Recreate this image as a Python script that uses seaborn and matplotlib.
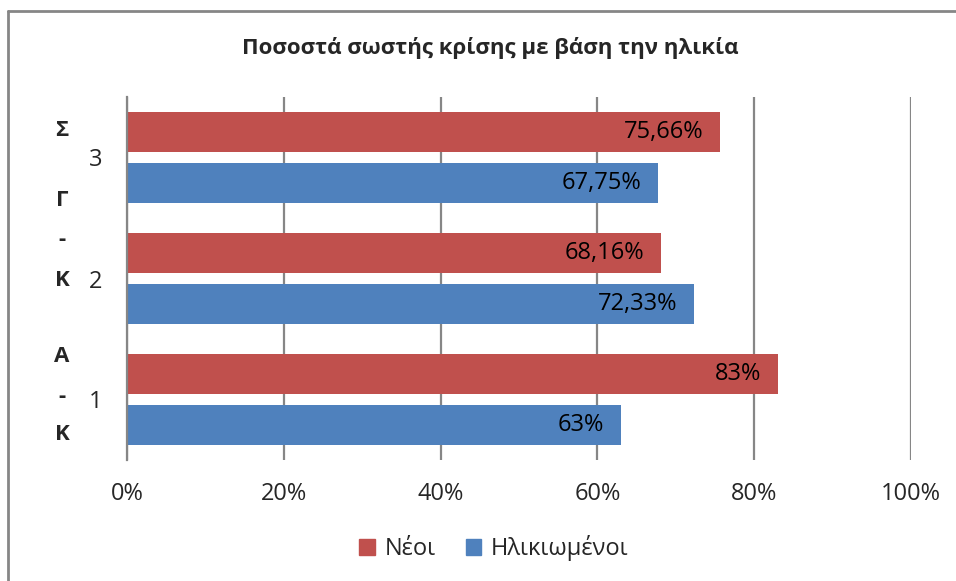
"""
Ποσοστά σωστής κρίσης με βάση την ηλικία - horizontal clustered bars
"""
import matplotlib
matplotlib.use("Agg")
import matplotlib.pyplot as plt
from matplotlib.lines import Line2D
from matplotlib.patches import Patch
import pandas as pd
import seaborn as sns

# Data
categories = ["3", "2", "1"]          # top to bottom
series = ["Νέοι", "Ηλικιωμένοι"]
neoi = [75.66, 68.16, 83.0]
ilikiomenoi = [67.75, 72.33, 63.0]
x_ticks = [0, 20, 40, 60, 80, 100]
title = "Ποσοστά σωστής κρίσης με βάση την ηλικία"

RED = "#C0504D"
BLUE = "#4F81BD"
GRID = "#868686"

sns.set_style("white")
plt.rcParams["font.family"] = ["Open Sans", "DejaVu Sans"]

W, H = 956, 581
fig = plt.figure(figsize=(W / 100, H / 100), dpi=100)
ax = fig.add_axes([127 / W, 1 - 460 / H, (911 - 127) / W, (460 - 97) / H])

df = pd.DataFrame({
    "cat": categories * 2,
    "group": [series[0]] * 3 + [series[1]] * 3,
    "value": neoi + ilikiomenoi,
})

sns.barplot(data=df, y="cat", x="value", hue="group", order=categories,
            hue_order=series, palette=[RED, BLUE], saturation=1, orient="h",
            width=0.833, gap=0.2, legend=False, ax=ax, edgecolor="none")


def fmt(v):
    return f"{v:g}".replace(".", ",") + "%"


# data labels, inside end
for p in ax.patches:
    w = p.get_width()
    if w <= 0:
        continue
    ax.annotate(fmt(w), xy=(w, p.get_y() + p.get_height() / 2),
                xytext=(-12, 0), textcoords="offset points",
                ha="right", va="center", fontsize=17, color="black")

ax.set_xlim(0, 100)
ax.set_xticks(x_ticks)
ax.set_xticklabels([f"{t}%" for t in x_ticks], fontsize=17)
ax.set_yticks(range(len(categories)))
ax.set_yticklabels(categories, fontsize=17)
ax.set_xlabel("")
ax.set_ylabel("")
ax.grid(axis="x", color=GRID, lw=1.6)
ax.grid(axis="y", visible=False)
ax.set_axisbelow(True)
for s in ["top", "right", "bottom"]:
    ax.spines[s].set_visible(False)
ax.spines["left"].set_color(GRID)
ax.spines["left"].set_linewidth(1.6)
ax.tick_params(axis="x", length=0, pad=16)
ax.tick_params(axis="y", length=0, pad=18)

# bold outer group letters on the left
group_letters = [("Σ", 130), ("Γ", 200), ("-", 240), ("Κ", 280),
                 ("Α", 357), ("-", 397), ("Κ", 435)]
for txt, ypx in group_letters:
    fig.text(62 / W, 1 - ypx / H, txt, ha="center", va="center",
             fontsize=16, fontweight="bold")

fig.text(490 / W, 1 - 48 / H, title, ha="center", va="center",
         fontsize=16, fontweight="bold")

handles = [Patch(color=RED), Patch(color=BLUE)]
fig.legend(handles, series, loc="center", bbox_to_anchor=(494 / W, 1 - 548 / H),
           ncol=2, frameon=False, fontsize=17, handlelength=0.65,
           handleheight=0.65, handletextpad=0.4, columnspacing=1.3)

# chart area border (only left and top edges visible)
fig.add_artist(Line2D([8 / W, 8 / W], [0, 1 - 11 / H], transform=fig.transFigure,
                      color=GRID, lw=2))
fig.add_artist(Line2D([8 / W, 1], [1 - 11 / H, 1 - 11 / H], transform=fig.transFigure,
                      color=GRID, lw=2))

fig.savefig("out.png", dpi=100)
